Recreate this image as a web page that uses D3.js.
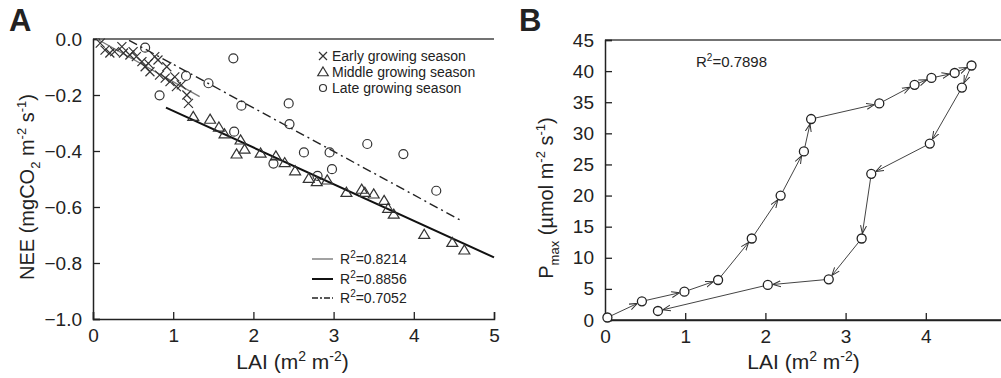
<!DOCTYPE html>
<html><head><meta charset="utf-8">
<script src="https://cdn.jsdelivr.net/npm/d3@7"></script>
<style>
body{margin:0;background:#fff;}
svg text{font-family:Arial,"Liberation Sans",Helvetica,sans-serif;fill:#222;}
</style></head>
<body><svg id="c" width="1001" height="378"></svg>
<script>
// ---------- Panel A data ----------
const earlyLAI = [0.09,0.15,0.21,0.27,0.36,0.38,0.46,0.50,0.54,0.61,0.65,0.69,0.71,0.77,0.81,0.83,0.90,0.92,0.96,1.02,1.04,1.10,1.17,1.19];
const earlyNEE = [-0.015,-0.04,-0.05,-0.045,-0.027,-0.05,-0.057,-0.045,-0.063,-0.081,-0.099,-0.087,-0.117,-0.063,-0.075,-0.129,-0.14,-0.099,-0.152,-0.135,-0.17,-0.164,-0.2,-0.23];
const middleLAI = [1.25,1.46,1.57,1.64,1.84,1.79,1.89,2.09,2.28,2.39,2.52,2.69,2.79,2.92,3.16,3.35,3.39,3.50,3.63,3.68,3.75,4.13,4.48,4.63];
const middleNEE = [-0.277,-0.287,-0.315,-0.339,-0.361,-0.411,-0.394,-0.408,-0.418,-0.442,-0.471,-0.498,-0.51,-0.504,-0.548,-0.537,-0.548,-0.554,-0.577,-0.605,-0.626,-0.698,-0.727,-0.754];
const lateLAI = [0.65,0.83,1.16,1.44,1.75,1.76,1.85,2.25,2.44,2.45,2.63,2.80,2.95,2.98,3.42,3.87,4.28];
const lateNEE = [-0.031,-0.201,-0.132,-0.158,-0.069,-0.331,-0.238,-0.445,-0.23,-0.304,-0.405,-0.489,-0.405,-0.465,-0.375,-0.411,-0.542];
// fitted lines (end points)
const fitNames = ["early","middle","late"];
const fitX = [[0.05,1.33],[0.91,5.0],[0.45,4.6]];
const fitY = [[0.0,-0.206],[-0.245,-0.78],[-0.005,-0.65]];
const fitR2 = ["0.8214","0.8856","0.7052"];
const legendA = ["Early growing season","Middle growing season","Late growing season"];
const xTicksA = [0,1,2,3,4,5];
const yTicksA = [-1.0,-0.8,-0.6,-0.4,-0.2,0.0];
// ---------- Panel B data ----------
const pLAI  = [0.03,0.46,0.99,1.41,1.83,2.19,2.48,2.57,3.42,3.86,4.07,4.36,4.57,4.45,4.05,3.32,3.20,2.79,2.03,0.66];
const pPmax = [0.4,3.0,4.55,6.43,13.1,20.0,27.1,32.3,34.8,37.8,38.9,39.7,40.9,37.35,28.35,23.5,13.1,6.54,5.63,1.45];
const xTicksB = [0,1,2,3,4];
const yTicksB = [0,5,10,15,20,25,30,35,40,45];
const r2B = "0.7898";

const svg = d3.select("#c");
const ink = "#222";

// ================= Panel A =================
const xA = d3.scaleLinear().domain([0,5]).range([93,494]);
const yA = d3.scaleLinear().domain([-1,0]).range([319,39]);
const gA = svg.append("g");

gA.append("line").attr("x1",xA(0)).attr("x2",xA(5)).attr("y1",yA(0)).attr("y2",yA(0)).attr("stroke","#444").attr("stroke-width",1.5);
const axAx = gA.append("g").attr("transform",`translate(0,${yA(-1)})`)
  .call(d3.axisBottom(xA).tickValues(xTicksA).tickSize(-7).tickPadding(10).tickFormat(d3.format("d")));
const axAy = gA.append("g").attr("transform",`translate(${xA(0)},0)`)
  .call(d3.axisLeft(yA).tickValues(yTicksA).tickSize(-7).tickPadding(11).tickFormat(d3.format(".1f")));
[axAx,axAy].forEach(a=>{
  a.select(".domain").attr("stroke",ink).attr("stroke-width",1.5);
  a.selectAll(".tick line").attr("stroke",ink).attr("stroke-width",1.3);
  a.selectAll(".tick text").attr("font-size",19).attr("fill",ink).attr("font-family","Arial, Liberation Sans, sans-serif");
});

const fitStyle = [
  {stroke:"#7a7a7a",w:1.4,dash:null},
  {stroke:"#111",w:2,dash:null},
  {stroke:"#222",w:1.4,dash:"9,4,2,4"}
];
fitNames.forEach((n,i)=>{
  gA.append("line")
    .attr("x1",xA(fitX[i][0])).attr("y1",yA(fitY[i][0]))
    .attr("x2",xA(fitX[i][1])).attr("y2",yA(fitY[i][1]))
    .attr("stroke",fitStyle[i].stroke).attr("stroke-width",fitStyle[i].w)
    .attr("stroke-dasharray",fitStyle[i].dash);
});

function crossPath(s){return `M${-s},${-s}L${s},${s}M${-s},${s}L${s},${-s}`;}
function triPath(s){return `M0,${-s}L${s*1.05},${s*0.75}L${-s*1.05},${s*0.75}Z`;}
const mk = gA.append("g");
earlyLAI.forEach((x,i)=>{
  mk.append("path").attr("d",crossPath(4.5)).attr("transform",`translate(${xA(x)},${yA(earlyNEE[i])})`)
    .attr("stroke","#333").attr("stroke-width",1.2).attr("fill","none");
});
middleLAI.forEach((x,i)=>{
  mk.append("path").attr("d",triPath(5.2)).attr("transform",`translate(${xA(x)},${yA(middleNEE[i])})`)
    .attr("stroke","#333").attr("stroke-width",1.2).attr("fill","none");
});
lateLAI.forEach((x,i)=>{
  mk.append("circle").attr("cx",xA(x)).attr("cy",yA(lateNEE[i])).attr("r",4.5)
    .attr("stroke","#333").attr("stroke-width",1.2).attr("fill","none");
});

const legY = [56,72,88];
legendA.forEach((t,i)=>{
  const cx=323, cy=legY[i];
  if(i===0) gA.append("path").attr("d",crossPath(4)).attr("transform",`translate(${cx},${cy})`).attr("stroke","#333").attr("stroke-width",1.2);
  if(i===1) gA.append("path").attr("d",triPath(5)).attr("transform",`translate(${cx},${cy})`).attr("stroke","#333").attr("stroke-width",1.2).attr("fill","none");
  if(i===2) gA.append("circle").attr("cx",cx).attr("cy",cy).attr("r",3.5).attr("stroke","#333").attr("stroke-width",1.2).attr("fill","none");
  gA.append("text").attr("x",332).attr("y",cy+5).attr("font-size",14).text(t);
});
const r2Y = [259,279,298];
fitR2.forEach((v,i)=>{
  gA.append("line").attr("x1",312).attr("x2",333).attr("y1",r2Y[i]).attr("y2",r2Y[i])
    .attr("stroke",fitStyle[i].stroke).attr("stroke-width",fitStyle[i].w).attr("stroke-dasharray",i===2?"6,2,2,2":null);
  const t = gA.append("text").attr("x",340).attr("y",r2Y[i]+5).attr("font-size",14);
  t.append("tspan").text("R");
  t.append("tspan").attr("dy",-6).attr("font-size",10).text("2");
  t.append("tspan").attr("dy",6).text("="+v);
});

function xTitle(g, cx){
  const t = g.append("text").attr("x",cx).attr("y",369).attr("text-anchor","middle").attr("font-size",21);
  t.append("tspan").text("LAI (m");
  t.append("tspan").attr("dy",-8).attr("font-size",14).text("2");
  t.append("tspan").attr("dy",8).text(" m");
  t.append("tspan").attr("dy",-8).attr("font-size",14).text("-2");
  t.append("tspan").attr("dy",8).text(")");
}
xTitle(gA, xA(2.5)-1);
{
  const t = gA.append("text").attr("transform",`translate(34,${(yA(-1)+yA(0))/2+8}) rotate(-90)`).attr("text-anchor","middle").attr("font-size",20);
  t.append("tspan").text("NEE (mgCO");
  t.append("tspan").attr("dy",6).attr("font-size",13).text("2");
  t.append("tspan").attr("dy",-6).text(" m");
  t.append("tspan").attr("dy",-8).attr("font-size",13).text("-2");
  t.append("tspan").attr("dy",8).text(" s");
  t.append("tspan").attr("dy",-8).attr("font-size",13).text("-1");
  t.append("tspan").attr("dy",8).text(")");
}
svg.append("text").attr("x",9).attr("y",31).attr("font-size",31).attr("font-weight","bold").attr("fill","#111").text("A");

// ================= Panel B =================
const xB = d3.scaleLinear().domain([0,5]).range([605,1006]);
const yB = d3.scaleLinear().domain([0,45]).range([320,40]);
const gB = svg.append("g");
gB.append("line").attr("x1",xB(0)).attr("x2",xB(5)).attr("y1",yB(45)).attr("y2",yB(45)).attr("stroke","#444").attr("stroke-width",1.5);
const axBx = gB.append("g").attr("transform",`translate(0,${yB(0)})`)
  .call(d3.axisBottom(xB).tickValues(xTicksB).tickSize(-7).tickPadding(10).tickFormat(d3.format("d")));
const axBy = gB.append("g").attr("transform",`translate(${xB(0)},0)`)
  .call(d3.axisLeft(yB).tickValues(yTicksB).tickSize(-7).tickPadding(11).tickFormat(d3.format("d")));
[axBx,axBy].forEach(a=>{
  a.select(".domain").attr("stroke",ink).attr("stroke-width",1.5);
  a.selectAll(".tick line").attr("stroke",ink).attr("stroke-width",1.3);
  a.selectAll(".tick text").attr("font-size",19).attr("fill",ink).attr("font-family","Arial, Liberation Sans, sans-serif");
});
// extend x axis line to picture edge (axis continues off-picture)
gB.append("line").attr("x1",xB(0)).attr("x2",xB(5)).attr("y1",yB(0)).attr("y2",yB(0)).attr("stroke",ink).attr("stroke-width",1.5);

const defs = svg.append("defs");
defs.append("marker").attr("id","arr").attr("viewBox","0 0 8 8").attr("refX",8).attr("refY",4)
  .attr("markerWidth",8).attr("markerHeight",8).attr("markerUnits","userSpaceOnUse").attr("orient","auto")
  .append("path").attr("d","M0,1L8,4L0,7").attr("fill","none").attr("stroke","#333").attr("stroke-width",1);

const rB = 4.5;
for(let i=0;i<pLAI.length-1;i++){
  const x1=xB(pLAI[i]), y1=yB(pPmax[i]), x2=xB(pLAI[i+1]), y2=yB(pPmax[i+1]);
  const dx=x2-x1, dy=y2-y1, L=Math.hypot(dx,dy);
  const ux=dx/L, uy=dy/L;
  gB.append("line").attr("x1",x1+ux*rB).attr("y1",y1+uy*rB).attr("x2",x2-ux*(rB+0.5)).attr("y2",y2-uy*(rB+0.5))
    .attr("stroke","#444").attr("stroke-width",1).attr("marker-end","url(#arr)");
}
pLAI.forEach((x,i)=>{
  gB.append("circle").attr("cx",xB(x)).attr("cy",yB(pPmax[i])).attr("r",rB)
    .attr("fill","#fff").attr("stroke","#222").attr("stroke-width",1.3);
});
{
  const t = gB.append("text").attr("x",696).attr("y",67).attr("font-size",15);
  t.append("tspan").text("R");
  t.append("tspan").attr("dy",-6).attr("font-size",10).text("2");
  t.append("tspan").attr("dy",6).text("="+r2B);
}
xTitle(gB, xB(2.5)-2);
{
  const t = gB.append("text").attr("transform",`translate(553,${(yB(0)+yB(45))/2+18}) rotate(-90)`).attr("text-anchor","middle").attr("font-size",20);
  t.append("tspan").text("P");
  t.append("tspan").attr("dy",6).attr("font-size",13).text("max");
  t.append("tspan").attr("dy",-6).text(" (µmol m");
  t.append("tspan").attr("dy",-8).attr("font-size",13).text("-2");
  t.append("tspan").attr("dy",8).text(" s");
  t.append("tspan").attr("dy",-8).attr("font-size",13).text("-1");
  t.append("tspan").attr("dy",8).text(")");
}
svg.append("text").attr("x",519).attr("y",31).attr("font-size",31).attr("font-weight","bold").attr("fill","#111").text("B");
</script></body></html>
